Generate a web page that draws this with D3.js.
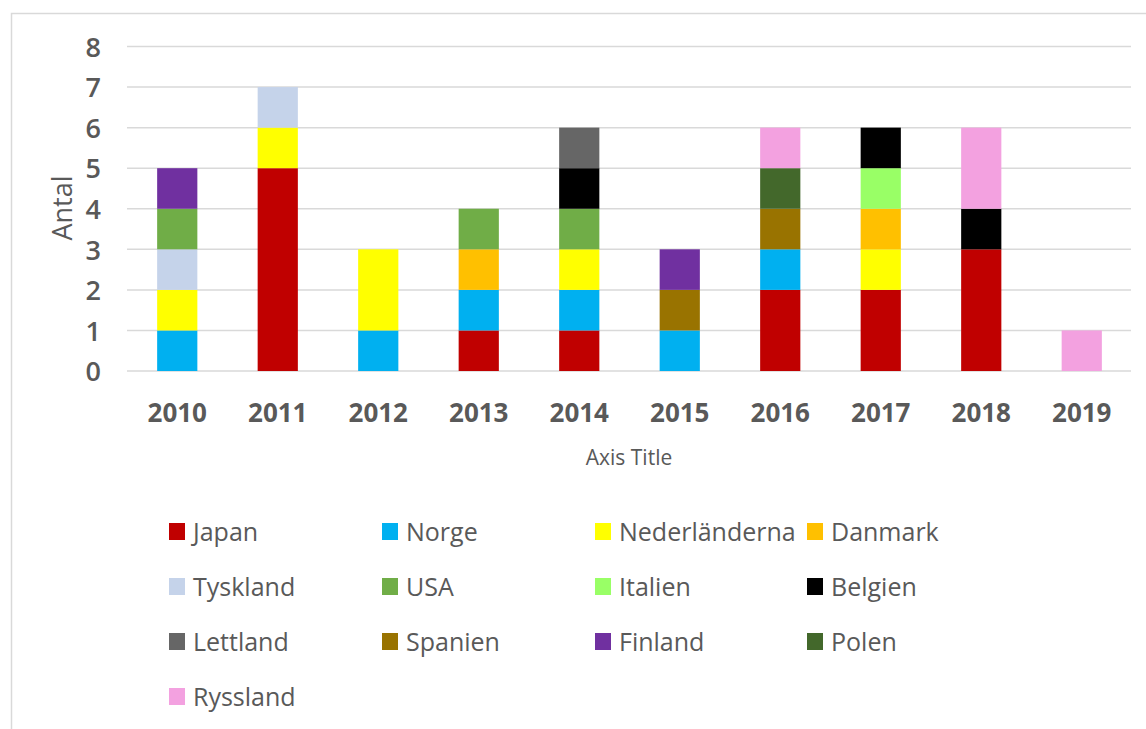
<!DOCTYPE html>
<html>
<head>
<meta charset="utf-8">
<script src="https://cdn.jsdelivr.net/npm/d3@7"></script>
<style>
  html, body { margin: 0; padding: 0; background: #fff; }
  svg { display: block; }
  text { font-family: "Open Sans", "Liberation Sans", sans-serif; fill: #595959; }
</style>
</head>
<body>
<svg id="chart" width="1146" height="729"></svg>
<script>
const years = ["2010","2011","2012","2013","2014","2015","2016","2017","2018","2019"];
const countries = ["Japan","Norge","Nederländerna","Danmark","Tyskland","USA","Italien","Belgien","Lettland","Spanien","Finland","Polen","Ryssland"];
const colors = ["#C00000","#00B0F0","#FFFF00","#FFC000","#C5D3EA","#70AD47","#99FF66","#000000","#666666","#997300","#7030A0","#43682B","#F3A1E0"];
// values per country, aligned to years
const Japan         = [0,5,0,1,1,0,2,2,3,0];
const Norge         = [1,0,1,1,1,1,1,0,0,0];
const Nederlanderna = [1,1,2,0,1,0,0,1,0,0];
const Danmark       = [0,0,0,1,0,0,0,1,0,0];
const Tyskland      = [1,1,0,0,0,0,0,0,0,0];
const USA           = [1,0,0,1,1,0,0,0,0,0];
const Italien       = [0,0,0,0,0,0,0,1,0,0];
const Belgien       = [0,0,0,0,1,0,0,1,1,0];
const Lettland      = [0,0,0,0,1,0,0,0,0,0];
const Spanien       = [0,0,0,0,0,1,1,0,0,0];
const Finland       = [1,0,0,0,0,1,0,0,0,0];
const Polen         = [0,0,0,0,0,0,1,0,0,0];
const Ryssland      = [0,0,0,0,0,0,1,0,2,1];
const yTicks = [0,1,2,3,4,5,6,7,8];
const yTitle = "Antal";
const xTitle = "Axis Title";

const seriesValues = [Japan,Norge,Nederlanderna,Danmark,Tyskland,USA,Italien,Belgien,Lettland,Spanien,Finland,Polen,Ryssland];
const table = years.map((y, i) => {
  const row = { year: y };
  countries.forEach((c, k) => row[c] = seriesValues[k][i]);
  return row;
});
const stacked = d3.stack().keys(countries)(table);

const svg = d3.select("#chart");
// outer border
svg.append("rect").attr("x", 11.5).attr("y", 13.5).attr("width", 1160).attr("height", 740)
  .attr("fill", "none").attr("stroke", "#D9D9D9").attr("stroke-width", 1.5);

const x = d3.scaleBand().domain(years).range([127, 1132]).paddingInner(0.6).paddingOuter(0.3);
const y = d3.scaleLinear().domain([0, 8]).range([371, 46.5]);
const color = d3.scaleOrdinal().domain(countries).range(colors);

// gridlines
svg.append("g").selectAll("line").data(yTicks).join("line")
  .attr("x1", 127).attr("x2", 1131)
  .attr("y1", d => y(d)).attr("y2", d => y(d))
  .attr("stroke", "#D9D9D9").attr("stroke-width", 1.5);

// bars
svg.append("g").selectAll("g").data(stacked).join("g")
  .attr("fill", d => color(d.key))
  .selectAll("rect").data(d => d.filter(s => s[1] - s[0] > 0)).join("rect")
  .attr("x", d => x(d.data.year))
  .attr("width", x.bandwidth())
  .attr("y", d => y(d[1]))
  .attr("height", d => y(d[0]) - y(d[1]));

// y axis labels
const yAxis = d3.axisLeft(y).tickValues(yTicks).tickSize(0).tickPadding(0);
const gy = svg.append("g").attr("transform", "translate(101,0)").call(yAxis);
gy.select(".domain").remove();
gy.selectAll("text").attr("font-size", 27).attr("font-family", "Open Sans").attr("fill", "#595959")
  .attr("font-weight", 600).attr("dy", "0.36em");

// x axis labels
const xAxis = d3.axisBottom(x).tickSize(0).tickPadding(0);
const gx = svg.append("g").attr("transform", "translate(0,371)").call(xAxis);
gx.select(".domain").remove();
gx.selectAll("text").attr("font-size", 26).attr("font-family", "Open Sans").attr("fill", "#595959")
  .attr("font-weight", 700).attr("dy", null).attr("y", 51);

// axis titles
svg.append("text").attr("x", 629).attr("y", 465).attr("text-anchor", "middle")
  .attr("font-size", 21).text(xTitle);
svg.append("text").attr("transform", "translate(72,208) rotate(-90)").attr("text-anchor", "middle")
  .attr("font-size", 27).text(yTitle);

// legend
const colX = [169, 382, 595, 807];
const rowY = [532, 587, 642, 697];
const lg = svg.append("g").selectAll("g").data(countries).join("g")
  .attr("transform", (d, i) => `translate(${colX[i % 4]},${rowY[Math.floor(i / 4)]})`);
lg.append("rect").attr("x", 0).attr("y", -9).attr("width", 16).attr("height", 17).attr("fill", d => color(d));
lg.append("text").attr("x", 24).attr("y", 0).attr("dy", "0.36em").attr("font-size", 25).text(d => d);
</script>
</body>
</html>
